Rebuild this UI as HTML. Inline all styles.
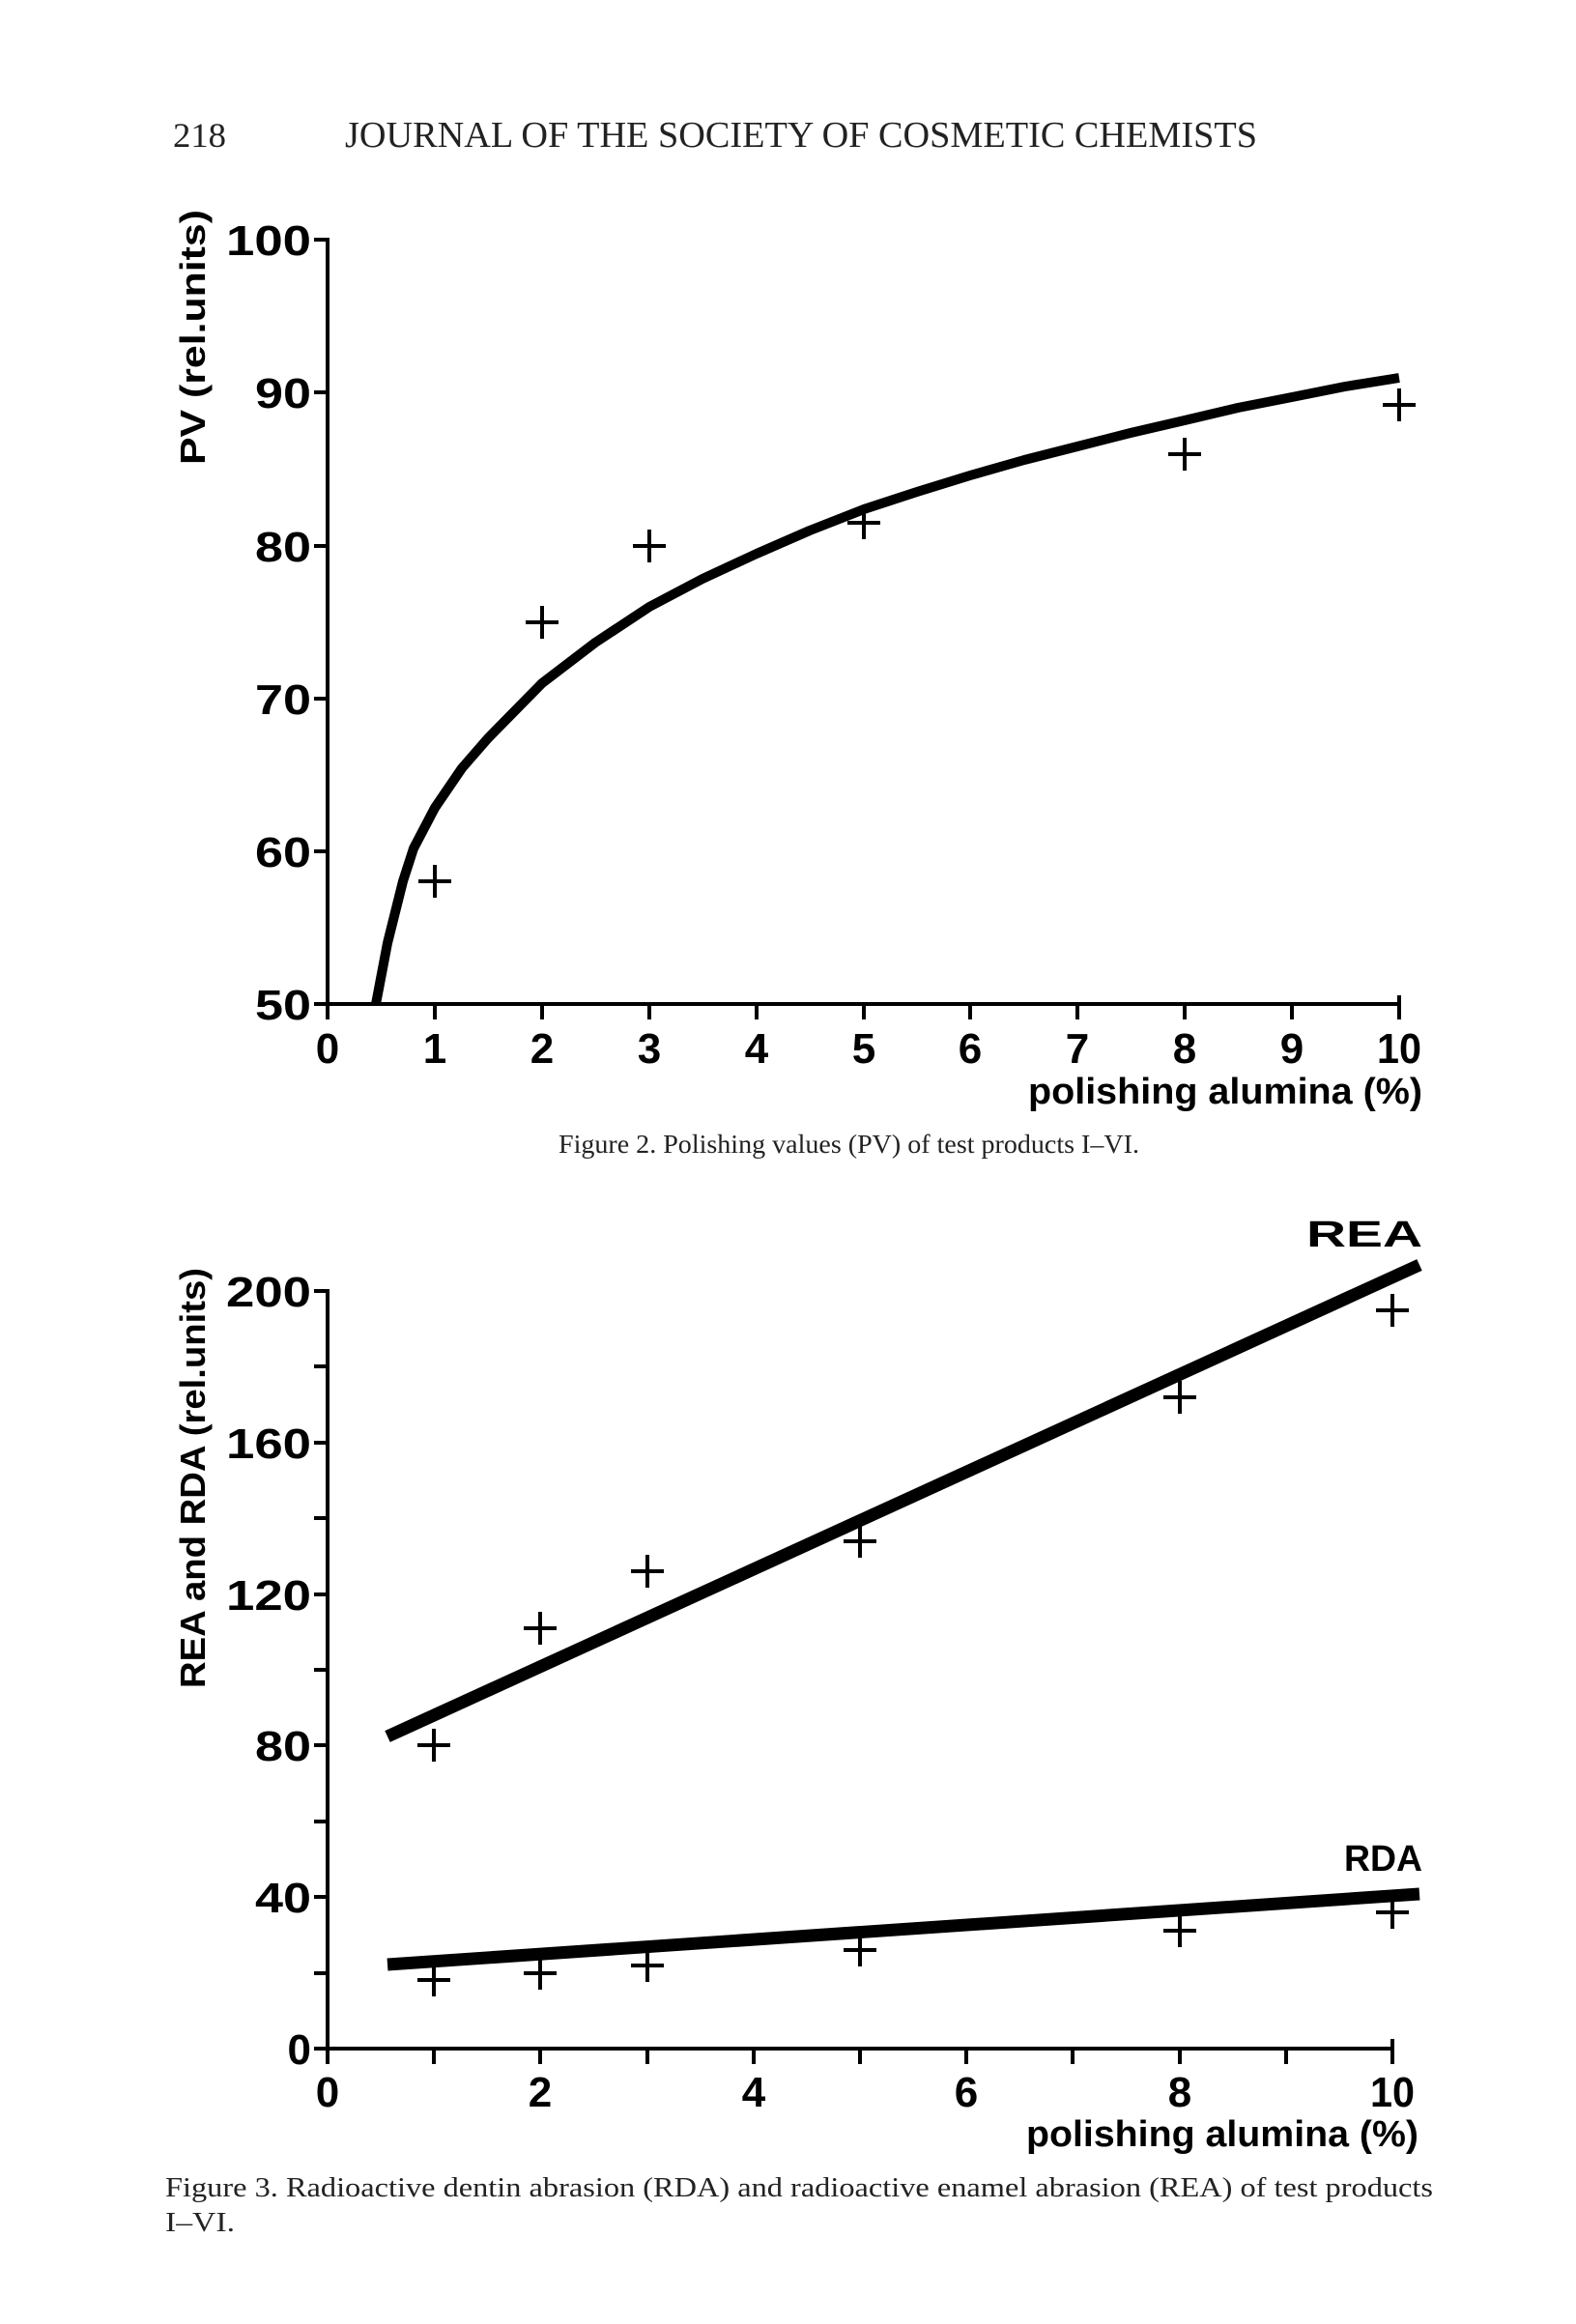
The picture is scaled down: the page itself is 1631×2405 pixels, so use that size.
<!DOCTYPE html>
<html><head><meta charset="utf-8"><style>
html,body{margin:0;padding:0;background:#fff;}
svg{display:block;}
.s{font-family:"Liberation Serif",serif;fill:#222;}
.b{font-family:"Liberation Sans",sans-serif;font-weight:bold;fill:#000;}
</style></head><body>
<svg width="1631" height="2405" viewBox="0 0 1631 2405" xmlns="http://www.w3.org/2000/svg">
<text class="s" x="179" y="152" font-size="36" textLength="55" lengthAdjust="spacingAndGlyphs">218</text>
<text class="s" x="357" y="152" font-size="38" textLength="944" lengthAdjust="spacingAndGlyphs">JOURNAL OF THE SOCIETY OF COSMETIC CHEMISTS</text>

<g stroke="#000" stroke-width="4" fill="none">
<line x1="339" y1="246" x2="339" y2="1041"/>
<line x1="337" y1="1039" x2="1450" y2="1039"/>
<line x1="325" y1="248" x2="339" y2="248"/>
<line x1="325" y1="406" x2="339" y2="406"/>
<line x1="325" y1="565" x2="339" y2="565"/>
<line x1="325" y1="723" x2="339" y2="723"/>
<line x1="325" y1="881" x2="339" y2="881"/>
<line x1="325" y1="1039" x2="339" y2="1039"/>
<line x1="339" y1="1039" x2="339" y2="1055"/>
<line x1="450" y1="1039" x2="450" y2="1055"/>
<line x1="561" y1="1039" x2="561" y2="1055"/>
<line x1="672" y1="1039" x2="672" y2="1055"/>
<line x1="783" y1="1039" x2="783" y2="1055"/>
<line x1="894" y1="1039" x2="894" y2="1055"/>
<line x1="1004" y1="1039" x2="1004" y2="1055"/>
<line x1="1115" y1="1039" x2="1115" y2="1055"/>
<line x1="1226" y1="1039" x2="1226" y2="1055"/>
<line x1="1337" y1="1039" x2="1337" y2="1055"/>
<line x1="1448" y1="1030" x2="1448" y2="1055"/>
</g>
<g class="b" font-size="44" text-anchor="end">
<text x="322" y="264" textLength="88" lengthAdjust="spacingAndGlyphs">100</text>
<text x="322" y="422" textLength="58" lengthAdjust="spacingAndGlyphs">90</text>
<text x="322" y="581" textLength="58" lengthAdjust="spacingAndGlyphs">80</text>
<text x="322" y="739" textLength="58" lengthAdjust="spacingAndGlyphs">70</text>
<text x="322" y="897" textLength="58" lengthAdjust="spacingAndGlyphs">60</text>
<text x="322" y="1055" textLength="58" lengthAdjust="spacingAndGlyphs">50</text>
</g>
<g class="b" font-size="44" text-anchor="middle">
<text x="339" y="1100">0</text><text x="450" y="1100">1</text><text x="561" y="1100">2</text>
<text x="672" y="1100">3</text><text x="783" y="1100">4</text><text x="894" y="1100">5</text>
<text x="1004" y="1100">6</text><text x="1115" y="1100">7</text><text x="1226" y="1100">8</text>
<text x="1337" y="1100">9</text><text x="1448" y="1100" textLength="46" lengthAdjust="spacingAndGlyphs">10</text>
</g>
<text class="b" x="1064" y="1142" font-size="38" textLength="408" lengthAdjust="spacingAndGlyphs">polishing alumina (%)</text>
<text class="b" font-size="36" transform="translate(212,481) rotate(-90)" textLength="264" lengthAdjust="spacingAndGlyphs">PV (rel.units)</text>
<polyline fill="none" stroke="#000" stroke-width="10" stroke-linejoin="round" points="389,1039 401,976 417,912 428,878 450,836 478,795 505,764 561,707 616,665 672,628 727,599 783,573 838,549 894,527 949,509 1004,492 1060,476 1115,462 1170,448 1226,435 1281,422 1337,411 1392,400 1448,391"/>
<g stroke="#000" stroke-width="4">
<path d="M433 912h34M450 895v34"/>
<path d="M544 644h34M561 627v34"/>
<path d="M655 565h34M672 548v34"/>
<path d="M877 541h34M894 524v34"/>
<path d="M1209 470h34M1226 453v34"/>
<path d="M1431 419h34M1448 402v34"/>
</g>
<text class="s" x="578" y="1193" font-size="27" textLength="601" lengthAdjust="spacingAndGlyphs">Figure 2.  Polishing values (PV) of test products I–VI.</text>

<g stroke="#000" stroke-width="4" fill="none">
<line x1="339" y1="1334" x2="339" y2="2122"/>
<line x1="337" y1="2120" x2="1443" y2="2120"/>
<line x1="325" y1="1336" x2="339" y2="1336"/>
<line x1="325" y1="1414" x2="339" y2="1414"/>
<line x1="325" y1="1493" x2="339" y2="1493"/>
<line x1="325" y1="1571" x2="339" y2="1571"/>
<line x1="325" y1="1650" x2="339" y2="1650"/>
<line x1="325" y1="1728" x2="339" y2="1728"/>
<line x1="325" y1="1806" x2="339" y2="1806"/>
<line x1="325" y1="1885" x2="339" y2="1885"/>
<line x1="325" y1="1963" x2="339" y2="1963"/>
<line x1="325" y1="2042" x2="339" y2="2042"/>
<line x1="325" y1="2120" x2="339" y2="2120"/>
<line x1="339" y1="2120" x2="339" y2="2136"/>
<line x1="449" y1="2120" x2="449" y2="2136"/>
<line x1="559" y1="2120" x2="559" y2="2136"/>
<line x1="670" y1="2120" x2="670" y2="2136"/>
<line x1="780" y1="2120" x2="780" y2="2136"/>
<line x1="890" y1="2120" x2="890" y2="2136"/>
<line x1="1000" y1="2120" x2="1000" y2="2136"/>
<line x1="1110" y1="2120" x2="1110" y2="2136"/>
<line x1="1221" y1="2120" x2="1221" y2="2136"/>
<line x1="1331" y1="2120" x2="1331" y2="2136"/>
<line x1="1441" y1="2110" x2="1441" y2="2136"/>
</g>
<g class="b" font-size="44" text-anchor="end">
<text x="322" y="1352" textLength="88" lengthAdjust="spacingAndGlyphs">200</text>
<text x="322" y="1509" textLength="88" lengthAdjust="spacingAndGlyphs">160</text>
<text x="322" y="1666" textLength="88" lengthAdjust="spacingAndGlyphs">120</text>
<text x="322" y="1822" textLength="58" lengthAdjust="spacingAndGlyphs">80</text>
<text x="322" y="1979" textLength="58" lengthAdjust="spacingAndGlyphs">40</text>
<text x="322" y="2136">0</text>
</g>
<g class="b" font-size="44" text-anchor="middle">
<text x="339" y="2180">0</text><text x="559" y="2180">2</text><text x="780" y="2180">4</text>
<text x="1000" y="2180">6</text><text x="1221" y="2180">8</text>
<text x="1441" y="2180" textLength="46" lengthAdjust="spacingAndGlyphs">10</text>
</g>
<text class="b" x="1062" y="2221" font-size="38" textLength="406" lengthAdjust="spacingAndGlyphs">polishing alumina (%)</text>
<text class="b" font-size="36" transform="translate(212,1747) rotate(-90)" textLength="435" lengthAdjust="spacingAndGlyphs">REA and RDA (rel.units)</text>
<text class="b" x="1352" y="1290" font-size="38" textLength="120" lengthAdjust="spacingAndGlyphs">REA</text>
<text class="b" x="1391" y="1936" font-size="38" textLength="81" lengthAdjust="spacingAndGlyphs">RDA</text>
<line x1="401" y1="1797" x2="1469" y2="1309" stroke="#000" stroke-width="13"/>
<line x1="401" y1="2033" x2="1469" y2="1960" stroke="#000" stroke-width="13"/>
<g stroke="#000" stroke-width="4">
<path d="M432 1806h34M449 1789v34"/>
<path d="M542 1685h34M559 1668v34"/>
<path d="M653 1626h34M670 1609v34"/>
<path d="M873 1595h34M890 1578v34"/>
<path d="M1204 1446h34M1221 1429v34"/>
<path d="M1424 1356h34M1441 1339v34"/>
<path d="M432 2049h34M449 2032v34"/>
<path d="M542 2042h34M559 2025v34"/>
<path d="M653 2034h34M670 2017v34"/>
<path d="M873 2018h34M890 2001v34"/>
<path d="M1204 1998h34M1221 1981v34"/>
<path d="M1424 1979h34M1441 1962v34"/>
</g>
<text class="s" x="171" y="2273" font-size="28" textLength="1312" lengthAdjust="spacingAndGlyphs">Figure 3.  Radioactive dentin abrasion (RDA) and radioactive enamel abrasion (REA) of test products</text>
<text class="s" x="171" y="2309" font-size="28" textLength="72" lengthAdjust="spacingAndGlyphs">I–VI.</text>
</svg>
</body></html>
